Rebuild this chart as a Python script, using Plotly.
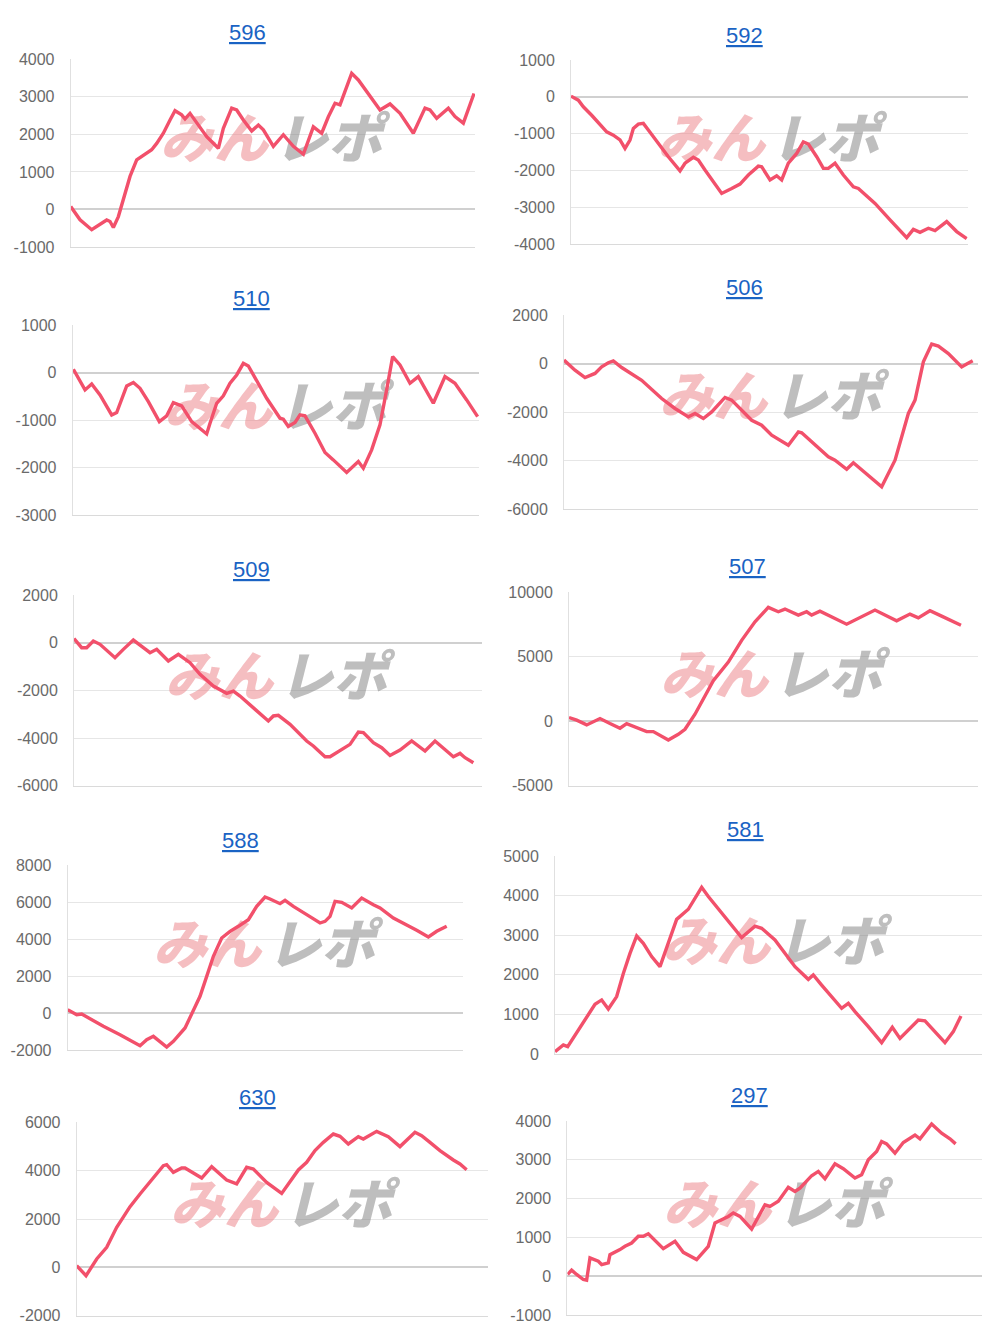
import plotly.graph_objects as go

W, H = 990, 1338

TITLES = ["596", "592", "510", "506", "509", "507", "588", "581", "630", "297"]

# (progress, cumulative value)
S596 = [(0,80),(28,-275),(63,-540),(78,-450),(108,-280),(118,-320),(128,-480),(143,-190),(158,260),(178,880),(198,1320),(213,1410),(228,1480),(243,1590),(258,1760),(278,2030),(298,2385),(313,2630),(333,2520),(343,2410),(358,2560),(378,2300),(408,1940),(443,1630),(458,2160),(483,2700),(498,2650),(518,2385),(543,2090),(563,2250),(578,2120),(608,1680),(638,1990),(668,1680),(698,1470),(728,2200),(753,2030),(773,2470),(793,2830),(808,2785),(843,3625),(863,3450),(888,3140),(908,2870),(928,2650),(958,2810),(988,2560),(1028,2030),(1063,2700),(1078,2650),(1098,2430),(1133,2700),(1153,2475),(1178,2300),(1210,3090)]
S592 = [(0,20),(22,-90),(37,-270),(62,-500),(107,-950),(127,-1040),(147,-1170),(162,-1400),(177,-1170),(187,-860),(202,-740),(217,-720),(232,-900),(262,-1265),(292,-1625),(327,-2010),(342,-1800),(367,-1640),(382,-1715),(402,-1985),(432,-2350),(452,-2620),(482,-2485),(507,-2365),(532,-2120),(562,-1880),(572,-1895),(597,-2255),(617,-2140),(632,-2255),(652,-1800),(677,-1535),(697,-1220),(712,-1280),(737,-1625),(757,-1940),(772,-1940),(792,-1800),(817,-2120),(847,-2440),(862,-2485),(912,-2890),(957,-3340),(1007,-3820),(1027,-3595),(1047,-3675),(1072,-3565),(1092,-3630),(1127,-3385),(1157,-3655),(1187,-3845)]
S510 = [(2,70),(37,-365),(57,-240),(82,-470),(117,-890),(132,-840),(162,-280),(182,-210),(202,-330),(227,-610),(260,-1030),(282,-910),(302,-630),(327,-700),(357,-1030),(402,-1290),(412,-1065),(432,-645),(452,-490),(472,-225),(492,-50),(512,195),(527,140),(557,-225),(582,-540),(622,-960),(632,-980),(647,-1135),(667,-1050),(682,-890),(697,-910),(727,-1275),(757,-1680),(782,-1835),(822,-2100),(857,-1870),(872,-2010),(897,-1625),(922,-1100),(942,-365),(960,335),(982,160),(1012,-225),(1037,-85),(1082,-645),(1117,-85),(1147,-225),(1182,-575),(1215,-925)]
S506 = [(0,140),(33,-275),(63,-580),(93,-410),(113,-140),(133,30),(148,110),(173,-165),(233,-690),(293,-1445),(333,-1855),(373,-2200),(393,-2060),(418,-2270),(443,-1995),(483,-1400),(503,-1510),(533,-1925),(563,-2340),(593,-2545),(623,-2955),(673,-3370),(703,-2820),(713,-2860),(753,-3370),(793,-3850),(813,-3985),(848,-4360),(868,-4095),(913,-4605),(953,-5085),(993,-3985),(1033,-2060),(1053,-1510),(1078,70),(1103,800),(1123,715),(1153,410),(1193,-140),(1208,-25),(1226,110)]
S509 = [(0,170),(23,-210),(38,-210),(58,70),(78,-70),(123,-630),(148,-280),(178,110),(208,-210),(228,-420),(248,-280),(283,-770),(313,-490),(348,-840),(378,-1330),(418,-1820),(458,-2125),(478,-2030),(498,-2240),(548,-2870),(583,-3285),(598,-3075),(613,-3050),(648,-3425),(698,-4125),(718,-4335),(753,-4785),(768,-4785),(788,-4615),(828,-4265),(853,-3750),(868,-3775),(898,-4195),(923,-4405),(948,-4730),(978,-4505),(1013,-4125),(1053,-4545),(1083,-4125),(1113,-4475),(1138,-4785),(1158,-4645),(1173,-4825),(1198,-5035)]
S507 = [(0,285),(23,80),(53,-285),(93,210),(123,-180),(153,-545),(173,-180),(233,-805),(253,-805),(298,-1460),(328,-1015),(348,-625),(378,545),(408,1980),(433,3150),(478,4585),(518,6275),(558,7710),(598,8830),(628,8490),(648,8700),(688,8230),(713,8490),(728,8230),(753,8540),(833,7525),(853,7785),(918,8620),(983,7785),(1023,8310),(1048,8020),(1083,8570),(1118,8150),(1153,7710),(1176,7450)]
S588 = [(0,180),(27,-90),(42,-55),(62,-270),(107,-720),(157,-1170),(207,-1710),(217,-1765),(237,-1440),(257,-1260),(297,-1840),(317,-1530),(352,-810),(377,180),(397,900),(417,1980),(437,3065),(462,4055),(487,4415),(512,4685),(542,5045),(567,5765),(592,6270),(607,6160),(637,5910),(652,6090),(677,5765),(717,5315),(757,4865),(772,4955),(787,5225),(802,6035),(822,5980),(852,5675),(882,6215),(917,5855),(937,5675),(977,5135),(1017,4775),(1047,4470),(1082,4110),(1107,4415),(1137,4685)]
S581 = [(0,60),(25,230),(38,185),(70,605),(90,900),(120,1255),(140,1365),(160,1135),(185,1450),(205,2035),(225,2540),(245,2980),(265,2795),(290,2460),(315,2205),(340,2795),(365,3400),(400,3655),(440,4210),(460,3975),(500,3570),(560,2940),(600,3230),(620,3175),(660,2880),(690,2540),(720,2205),(760,1885),(775,1995),(800,1740),(830,1450),(860,1155),(880,1280),(900,1070),(940,690),(980,285),(1012,675),(1035,395),(1090,860),(1110,840),(1170,285),(1195,565),(1218,960)]
S630 = [(0,70),(28,-345),(60,345),(90,830),(120,1655),(160,2510),(190,3035),(225,3615),(260,4205),(270,4250),(290,3930),(315,4110),(325,4110),(375,3695),(405,4165),(450,3615),(480,3450),(510,4140),(530,4070),(570,3515),(615,3060),(665,4030),(690,4345),(715,4830),(740,5170),(770,5515),(790,5420),(815,5105),(845,5405),(860,5310),(900,5625),(935,5405),(970,4995),(1015,5585),(1035,5450),(1060,5170),(1090,4830),(1130,4440),(1150,4275),(1170,4040)]
S297 = [(1,45),(13,155),(28,45),(48,-85),(58,-105),(68,470),(93,385),(103,300),(123,345),(128,555),(158,685),(173,770),(193,855),(213,1030),(228,1030),(243,1095),(288,710),(323,900),(348,615),(388,430),(423,770),(443,1370),(483,1540),(498,1630),(518,1540),(553,1215),(593,1840),(608,1800),(633,1930),(663,2290),(683,2185),(698,2270),(733,2590),(753,2700),(773,2510),(803,2895),(828,2770),(863,2530),(883,2615),(903,3000),(928,3215),(943,3470),(958,3410),(983,3170),(1008,3445),(1043,3640),(1058,3540),(1093,3925),(1123,3685),(1148,3540),(1165,3410)]

SERIES = [S596, S592, S510, S506, S509, S507, S588, S581, S630, S297]

T596 = [-1000, 0, 1000, 2000, 3000, 4000]
T592 = [-4000, -3000, -2000, -1000, 0, 1000]
T510 = [-3000, -2000, -1000, 0, 1000]
T506 = [-6000, -4000, -2000, 0, 2000]
T509 = [-6000, -4000, -2000, 0, 2000]
T507 = [-5000, 0, 5000, 10000]
T588 = [-2000, 0, 2000, 4000, 6000, 8000]
T581 = [0, 1000, 2000, 3000, 4000, 5000]
T630 = [-2000, 0, 2000, 4000, 6000]
T297 = [-1000, 0, 1000, 2000, 3000, 4000]
TICKS = [T596, T592, T510, T506, T509, T507, T588, T581, T630, T297]

# layout geometry in pixels: x0, x1, y_top, y_bottom, x_span, title_x, title_y, wm_x, wm_y
GEOM = [
    (70.7, 475.0, 59.3, 247.0, 1213, 247, 33, 271, 145),
    (571.0, 967.7, 60.0, 244.3, 1190, 744, 35, 768, 144),
    (72.7, 479.3, 325.0, 515.3, 1220, 251, 299, 275, 412),
    (564.0, 977.7, 315.0, 509.0, 1241, 744, 288, 770, 402),
    (74.0, 481.7, 595.0, 785.7, 1223, 252, 569, 276, 682),
    (569.0, 978.3, 592.3, 785.7, 1228, 747, 566, 771, 681),
    (67.7, 462.7, 865.0, 1050.0, 1185, 240, 840, 264, 950),
    (555.0, 982.3, 856.0, 1054.0, 1282, 745, 829, 773, 947),
    (76.7, 488.3, 1122.3, 1315.7, 1235, 257, 1097, 281, 1211),
    (567.3, 982.3, 1121.0, 1315.0, 1245, 749, 1095, 774, 1210),
]

LINE_COLOR = "#f2506b"
TICK_FONT = dict(family="Liberation Sans, Arial, sans-serif", size=16, color="#6a6a6a")
WM_FONT = "Noto Sans CJK JP"

fig = go.Figure()
annotations = []

for i, (title, data, ticks, g) in enumerate(zip(TITLES, SERIES, TICKS, GEOM)):
    x0, x1, yt, yb, span, tx, ty, wx, wy = g
    n = "" if i == 0 else str(i + 1)
    ymin, ymax = ticks[0], ticks[-1]

    def to_dx(px):
        return (px - x0) / (x1 - x0) * span

    def to_dy(py):
        return ymax - (py - yt) / (yb - yt) * (ymax - ymin)

    # watermark (drawn below the line)
    fig.add_trace(go.Scatter(
        x=[to_dx(wx - 3)], y=[to_dy(wy)], mode="text", text=["みん"],
        textposition="middle left",
        textfont=dict(family=WM_FONT, size=54, color="rgba(236,130,136,0.52)",
                      weight=900, style="italic"),
        xaxis="x" + n, yaxis="y" + n, hoverinfo="skip", showlegend=False))
    fig.add_trace(go.Scatter(
        x=[to_dx(wx + 3)], y=[to_dy(wy)], mode="text", text=["レポ"],
        textposition="middle right",
        textfont=dict(family=WM_FONT, size=54, color="rgba(130,130,130,0.52)",
                      weight=900, style="italic"),
        xaxis="x" + n, yaxis="y" + n, hoverinfo="skip", showlegend=False))

    fig.add_trace(go.Scatter(
        x=[p[0] for p in data], y=[p[1] for p in data], mode="lines",
        line=dict(color=LINE_COLOR, width=3.4),
        xaxis="x" + n, yaxis="y" + n, showlegend=False))

    fig.update_layout({
        "xaxis" + n: dict(domain=[x0 / W, x1 / W], range=[0, span],
                          showgrid=False, zeroline=False, showticklabels=False,
                          showline=True, linecolor="#dadada", linewidth=1,
                          anchor="y" + n, fixedrange=True, automargin=False),
        "yaxis" + n: dict(domain=[1 - yb / H, 1 - yt / H], range=[ymin, ymax],
                          tickvals=ticks, ticktext=[str(v) for v in ticks],
                          showgrid=True, gridcolor="#e6e6e6", gridwidth=1,
                          zeroline=True, zerolinecolor="#d0d0d0", zerolinewidth=1.5,
                          showline=True, linecolor="#e0e0e0", linewidth=1,
                          ticks="", ticklabelstandoff=12, tickfont=TICK_FONT,
                          anchor="x" + n, fixedrange=True, automargin=False),
    })

    annotations.append(dict(
        x=tx / W, y=1 - ty / H, xref="paper", yref="paper",
        text="<u>" + title + "</u>", showarrow=False,
        xanchor="center", yanchor="middle",
        font=dict(family="Liberation Sans, Arial, sans-serif", size=22, color="#1a63c4")))

fig.update_layout(
    width=W, height=H,
    margin=dict(l=0, r=0, t=0, b=0, pad=0, autoexpand=False),
    paper_bgcolor="white", plot_bgcolor="white",
    showlegend=False,
    annotations=annotations,
)

fig.write_html("out.html")
